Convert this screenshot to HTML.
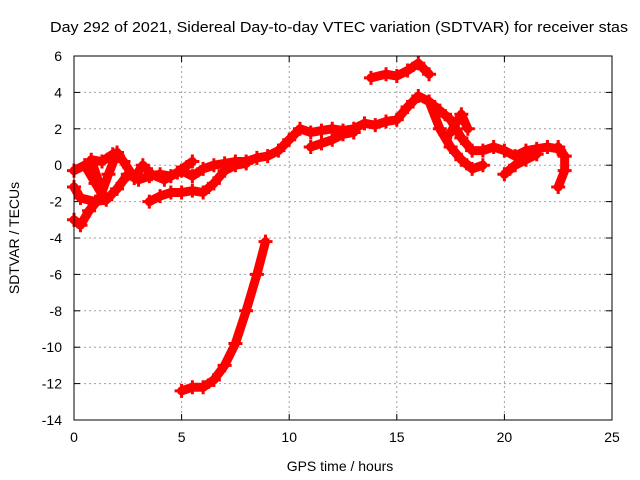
<!DOCTYPE html>
<html><head><meta charset="utf-8"><style>
body{margin:0;background:#fff;}
svg{display:block;font-family:"Liberation Sans",sans-serif;}
</style></head><body>
<svg id="chart" width="640" height="480">
<rect width="640" height="480" fill="#fff"/>
<text x="50" y="32" font-size="15" textLength="578" lengthAdjust="spacingAndGlyphs">Day 292 of 2021, Sidereal Day-to-day VTEC variation (SDTVAR) for receiver stas</text>
<text x="340" y="471" font-size="14" text-anchor="middle">GPS time / hours</text>
<text transform="translate(19,238) rotate(-90)" font-size="14" text-anchor="middle">SDTVAR / TECUs</text>
<g id="grid"></g><g id="ticks"></g><g id="series"></g>
<rect x="74" y="56" width="538" height="364" fill="none" stroke="#000" stroke-width="1"/>
</svg>
<script>
const xTicks=[0,5,10,15,20,25];
const yTicks=[6,4,2,0,-2,-4,-6,-8,-10,-12,-14];
const trackMain=[[0,-1.2],[0.3,-1.8],[1,-2],[1.5,-1.9],[2,-1.3],[2.5,-0.5],[3,-0.8],[3.5,-0.6],[4,-0.5],[4.5,-0.6],[5,-0.3],[5.5,-0.6],[6,-0.2],[6.5,0],[7,0.1],[7.5,0.2],[8,0.2],[8.5,0.4],[9,0.5],[9.5,0.8],[10,1.4],[10.5,2],[11,1.8],[11.5,1.9],[12,2],[12.5,1.9],[13,2],[13.5,2.3],[14,2.2],[14.5,2.4],[15,2.5],[15.5,3.2],[16,3.8],[16.5,3.5],[17,3],[17.5,2.5],[18,1.5],[18.5,0.8],[19,0.8],[19.5,1],[20,0.8],[20.5,0.5],[21,0.8],[21.5,0.9],[22,1],[22.5,0.9],[22.8,0.5]];
const trackLow=[[0,-3],[0.3,-3.3],[0.7,-2.5],[1.2,-1.8],[1.6,-0.5],[2,0.7],[2.3,0.2],[2.8,-0.7],[3.2,0],[3.6,-0.5],[4.2,-0.8],[4.8,-0.4],[5.5,0.2]];
const trackUpperLeft=[[0,-0.3],[0.5,0],[1,-1],[1.4,-1.8],[0.8,0.3],[1.3,0.2],[1.8,0.6]];
const trackMid=[[3.5,-2],[4,-1.7],[4.5,-1.5],[5,-1.5],[5.5,-1.4],[6,-1.5],[6.5,-1],[7,-0.3],[7.5,0],[8,0.1]];
const trackTop=[[13.8,4.8],[14.5,5],[15,4.9],[15.5,5.2],[16,5.6],[16.5,5]];
const trackDip=[[5,-12.4],[5.5,-12.2],[6,-12.2],[6.5,-11.8],[7,-11],[7.5,-9.8],[8,-8],[8.5,-6],[8.9,-4.2]];
const trackB1=[[11,1],[11.5,1.2],[12,1.4],[12.5,1.7],[13,1.8]];
const trackB2=[[16.5,3.5],[17,2],[17.5,1],[18,0.3],[18.5,-0.2],[19,0]];
const trackB3=[[20,-0.5],[20.5,0],[21,0.3],[21.5,0.6]];
const trackB4=[[22.5,-1.2],[22.8,-0.3],[22.8,0.5],[22.5,1]];
const trackB5=[[17.5,1.8],[18,2.8],[18.3,2]];
const tracks=[trackMain,trackLow,trackUpperLeft,trackMid,trackTop,trackDip,trackB1,trackB2,trackB3,trackB4,trackB5];
const NS="http://www.w3.org/2000/svg";
const X=v=>74+v*538/25;
const Y=v=>56+(6-v)*364/20;
function mk(t,a){const e=document.createElementNS(NS,t);for(const k in a)e.setAttribute(k,a[k]);return e;}
const grid=document.getElementById('grid'),ticks=document.getElementById('ticks'),ser=document.getElementById('series');
xTicks.forEach(t=>{
 const x=X(t);
 if(t>0&&t<25){const g=mk('line',{x1:x,x2:x,y1:56,y2:420,stroke:'#a0a0a0','stroke-dasharray':'2,3'});
 
 grid.appendChild(g);}
 const tl=mk('text',{x:x,y:442,'font-size':14,'text-anchor':'middle'});tl.textContent=t;
 
 ticks.appendChild(tl);
 ticks.appendChild(mk('line',{x1:x,x2:x,y1:420,y2:414,stroke:'#000'}));
 ticks.appendChild(mk('line',{x1:x,x2:x,y1:56,y2:62,stroke:'#000'}));
});
yTicks.forEach(t=>{
 const y=Y(t);
 if(t<6&&t>-14){const g=mk('line',{x1:74,x2:612,y1:y,y2:y,stroke:'#a0a0a0','stroke-dasharray':'2,3'});
 
 grid.appendChild(g);}
 const tl=mk('text',{x:62,y:y+5,'font-size':14,'text-anchor':'end'});tl.textContent=t;
 
 ticks.appendChild(tl);
 ticks.appendChild(mk('line',{x1:74,x2:80,y1:y,y2:y,stroke:'#000'}));
 ticks.appendChild(mk('line',{x1:612,x2:606,y1:y,y2:y,stroke:'#000'}));
});
tracks.forEach(tr=>{
 const p=mk('polyline',{points:tr.map(d=>X(d[0])+','+Y(d[1])).join(' '),fill:'none',stroke:'#f00','stroke-width':9,'stroke-linejoin':'round','stroke-linecap':'round'});
 
 
 ser.appendChild(p);
 tr.forEach(d=>{
  const m=mk('path',{d:`M${X(d[0])-7},${Y(d[1])}h14M${X(d[0])},${Y(d[1])-7}v14`,stroke:'#f00','stroke-width':3});
  
  
  ser.appendChild(m);
 });
});
</script>
</body></html>
